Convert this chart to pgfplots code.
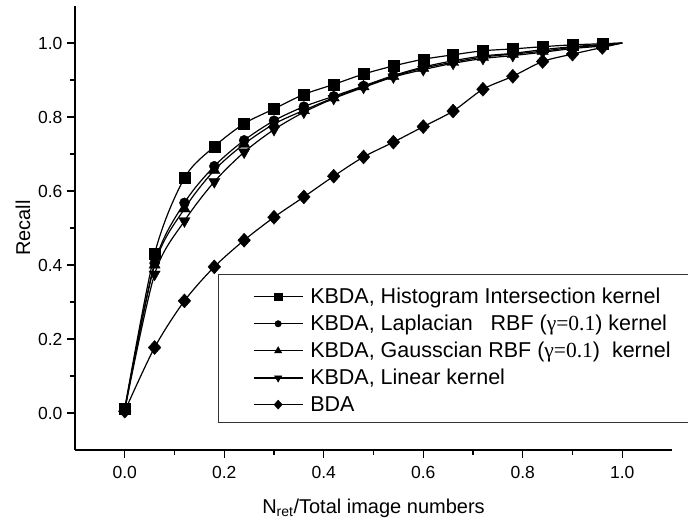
\documentclass[border=0pt]{standalone}
\usepackage{fontspec}
\setmainfont{Liberation Sans}
\newfontfamily\seriffont{Liberation Serif}
\usepackage{pgfplots}
\pgfplotsset{compat=1.18}
\begin{document}
\begin{tikzpicture}
\begin{axis}[
  scale only axis, width=597pt, height=444pt,
  xmin=-0.1, xmax=1.1, ymin=-0.1, ymax=1.1,
  axis lines*=left,
  axis line style={line width=1.2pt},
  tick align=outside,
  xtick={0,0.2,0.4,0.6,0.8,1.0}, ytick={0,0.2,0.4,0.6,0.8,1.0},
  minor tick num=1,
  major tick length=8pt, minor tick length=5pt,
  every tick/.style={line width=1.2pt, black},
  tick label style={font=\fontsize{17.5}{17.5}\selectfont},
  xticklabel style={yshift=-5pt},
  yticklabel style={xshift=-1pt},
  /pgf/number format/.cd, fixed, fixed zerofill, precision=1, assume math mode=true, /pgfplots/.cd,
  xlabel={N\textsubscript{ret}/Total image numbers},
  ylabel={Recall},
  label style={font=\fontsize{20}{20}\selectfont},
  xlabel style={at={(axis description cs:0.5,-0.131)}, anchor=center},
  ylabel style={at={(axis description cs:-0.087,0.5)}, anchor=center},
  clip=false,
  legend cell align=left,
  legend style={draw=none, fill=none, at={(axis cs:0.2575,0.169)}, anchor=west,
    inner sep=0pt, font=\fontsize{21.5}{21.5}\selectfont, row sep=6pt, column sep=5pt},
  legend image code/.code={\draw[#1, mark indices={2}, every mark/.append style={scale=0.65}] plot coordinates {(0pt,0pt)(24.5pt,0pt)(49pt,0pt)};},
]
\draw[line width=1pt, black!80] (axis cs:0.189,0.375) rectangle (axis cs:1.25,-0.027);

\addplot[black, line width=1.2pt, smooth, mark=square*, mark size=5.5pt, mark indices={1,...,17}, mark options={solid, line width=0.4pt}] coordinates {
(0,0.012)(0.06,0.43)(0.12,0.635)(0.18,0.72)(0.24,0.782)(0.30,0.822)(0.36,0.861)(0.42,0.888)(0.48,0.916)(0.54,0.938)(0.60,0.956)(0.66,0.968)(0.72,0.979)(0.78,0.984)(0.84,0.99)(0.90,0.995)(0.96,0.998)(1.0,1.0)};
\addlegendentry{KBDA, Histogram Intersection kernel}

\addplot[black, line width=1.2pt, smooth, mark=*, mark size=5pt, mark indices={1,...,17}, mark options={solid, line width=0.4pt}] coordinates {
(0,0.01)(0.06,0.405)(0.12,0.568)(0.18,0.667)(0.24,0.737)(0.30,0.79)(0.36,0.828)(0.42,0.856)(0.48,0.884)(0.54,0.912)(0.60,0.935)(0.66,0.952)(0.72,0.965)(0.78,0.972)(0.84,0.982)(0.90,0.99)(0.96,0.996)(1.0,1.0)};
\addlegendentry{KBDA, Laplacian\ \ \ RBF ({\seriffont γ=0.1}) kernel}

\addplot[black, line width=1.2pt, smooth, mark=triangle*, mark size=6.5pt, mark indices={1,...,17}, mark options={solid, line width=0.4pt}] coordinates {
(0,0.008)(0.06,0.40)(0.12,0.552)(0.18,0.656)(0.24,0.727)(0.30,0.781)(0.36,0.818)(0.42,0.852)(0.48,0.882)(0.54,0.91)(0.60,0.932)(0.66,0.948)(0.72,0.962)(0.78,0.970)(0.84,0.978)(0.90,0.988)(0.96,0.994)(1.0,1.0)};
\addlegendentry{KBDA, Gausscian RBF ({\seriffont γ=0.1})\ \ kernel}

\addplot[black, line width=1.2pt, smooth, mark=triangle*, mark size=6.5pt, mark indices={1,...,17}, mark options={solid, line width=0.4pt, rotate=180}] coordinates {
(0,0.008)(0.06,0.375)(0.12,0.519)(0.18,0.625)(0.24,0.705)(0.30,0.766)(0.36,0.813)(0.42,0.85)(0.48,0.88)(0.54,0.908)(0.60,0.928)(0.66,0.945)(0.72,0.958)(0.78,0.966)(0.84,0.975)(0.90,0.985)(0.96,0.992)(1.0,1.0)};
\addlegendentry{KBDA, Linear kernel}

\addplot[black, line width=1.2pt, smooth, mark=diamond*, mark size=7pt, mark indices={1,...,17}, mark options={solid, line width=0.4pt, xscale=1.2}] coordinates {
(0,0.005)(0.06,0.177)(0.12,0.303)(0.18,0.395)(0.24,0.467)(0.30,0.529)(0.36,0.584)(0.42,0.640)(0.48,0.692)(0.54,0.732)(0.60,0.774)(0.66,0.816)(0.72,0.875)(0.78,0.91)(0.84,0.95)(0.90,0.97)(0.96,0.988)(1.0,1.0)};
\addlegendentry{BDA}
\end{axis}
\pgfresetboundingbox
\path[use as bounding box] ([xshift=-75pt,yshift=-74pt]current axis.south west) rectangle ([xshift=16pt,yshift=6pt]current axis.north east);
\end{tikzpicture}
\end{document}
